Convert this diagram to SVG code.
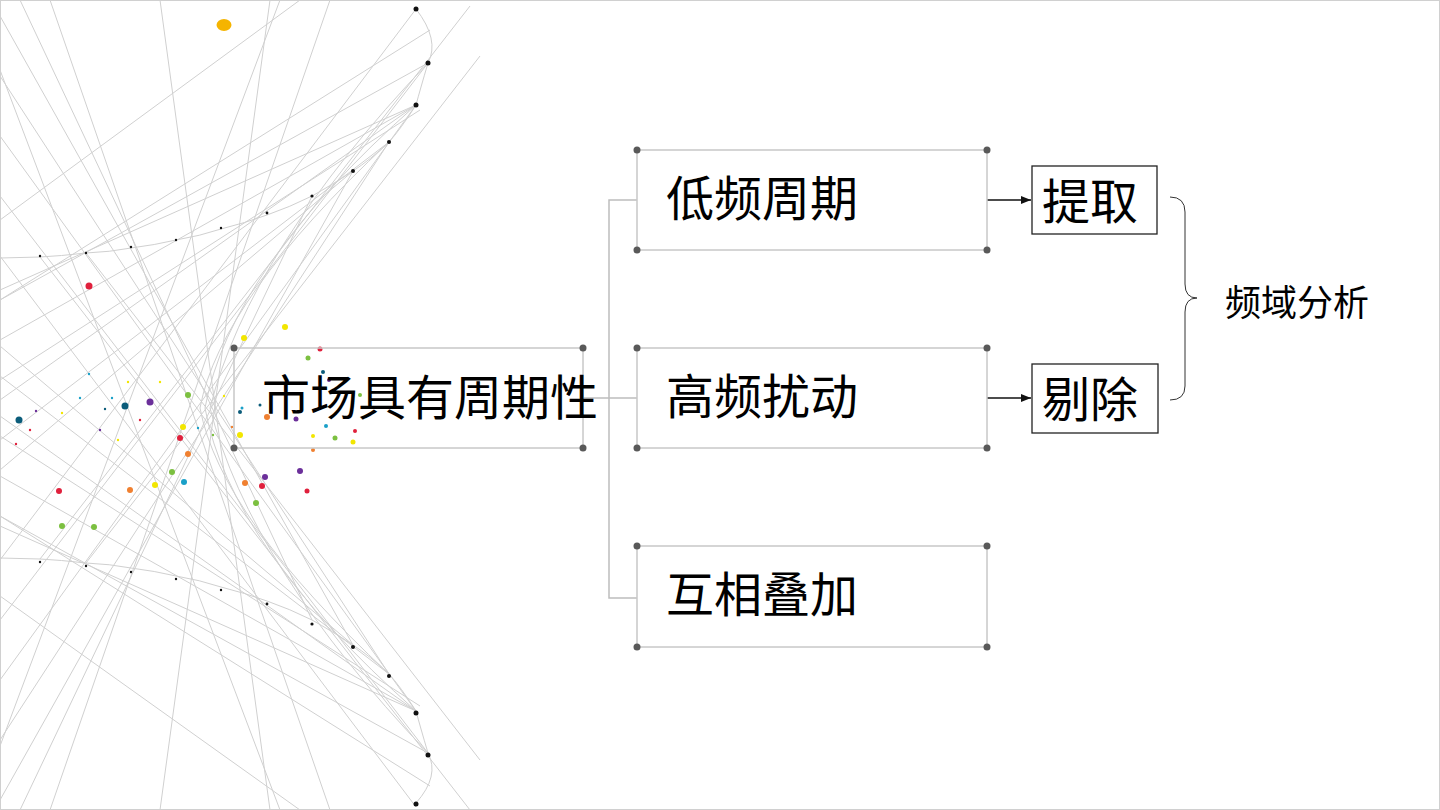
<svg xmlns="http://www.w3.org/2000/svg" width="1440" height="810" viewBox="0 0 1440 810">
<defs>
<style>
.t{font-family:"Noto Sans CJK SC","Noto Sans",sans-serif;fill:#000}
.box{fill:none;stroke:#c8c8c8;stroke-width:1.5}
.cd{fill:#595959}
.sb{fill:#fff;stroke:#222;stroke-width:1.3}
.dl{stroke:#d0d0d0;stroke-width:1;fill:none}
.bd{fill:#111}
.con{stroke:#bdbdbd;stroke-width:1.5;fill:none}
.ar{stroke:#111;stroke-width:1.5;fill:none}
</style>
<marker id="ah" viewBox="0 0 10 10" refX="10" refY="5" markerWidth="7" markerHeight="7" orient="auto"><path d="M0,1 L10,5 L0,9z" fill="#111"/></marker>
</defs>
<rect x="0.5" y="0.5" width="1439" height="809" fill="#fff" stroke="#d0d0d0"/>
<g id="decor">
<g class="dl">
<path d="M416,9 Q440,40 428,63 Q420,90 416,105 Q400,130 389,142 Q370,160 353,171 Q330,186 312,196 Q290,207 267,215 Q245,223 221,229 Q200,236 176,240 Q155,245 131,248 Q110,252 86,253 Q60,256 40,257 L0,258"/>
<path d="M416,803 Q440,776 428,753 Q420,726 416,711 Q400,686 389,674 Q370,656 353,645 Q330,630 312,620 Q290,609 267,601 Q245,593 221,587 Q200,580 176,576 Q155,571 131,568 Q110,564 86,563 Q60,560 40,559 L0,558"/>
<path d="M416,105 Q230,270 205,408 Q230,546 416,711"/>
<path d="M428,63 Q250,250 210,408 Q250,566 428,753"/>
<path d="M389,142 Q220,300 200,408 Q220,516 389,674"/>
<line x1="416" y1="9" x2="0" y2="560"/><line x1="428" y1="63" x2="0" y2="620"/><line x1="416" y1="105" x2="0" y2="680"/>
<line x1="389" y1="142" x2="0" y2="740"/><line x1="353" y1="171" x2="0" y2="800"/><line x1="312" y1="196" x2="20" y2="810"/>
<line x1="416" y1="807" x2="0" y2="256"/><line x1="428" y1="753" x2="0" y2="196"/><line x1="416" y1="711" x2="0" y2="136"/>
<line x1="389" y1="674" x2="0" y2="76"/><line x1="353" y1="645" x2="0" y2="16"/><line x1="312" y1="620" x2="20" y2="0"/>
<line x1="416" y1="105" x2="0" y2="340"/><line x1="416" y1="105" x2="0" y2="400"/><line x1="389" y1="142" x2="0" y2="440"/><line x1="353" y1="171" x2="0" y2="470"/>
<line x1="416" y1="711" x2="0" y2="476"/><line x1="416" y1="711" x2="0" y2="416"/><line x1="389" y1="674" x2="0" y2="376"/><line x1="353" y1="645" x2="0" y2="346"/>
<line x1="428" y1="63" x2="0" y2="300"/><line x1="428" y1="753" x2="0" y2="516"/>
<line x1="416" y1="105" x2="0" y2="290"/><line x1="416" y1="711" x2="0" y2="526"/>
<line x1="40" y1="257" x2="470" y2="810"/><line x1="86" y1="253" x2="480" y2="760"/>
<line x1="40" y1="559" x2="470" y2="6"/><line x1="86" y1="563" x2="480" y2="56"/>
<line x1="0" y1="70" x2="280" y2="810"/><line x1="0" y1="746" x2="280" y2="0"/>
<line x1="50" y1="0" x2="330" y2="810"/><line x1="50" y1="810" x2="330" y2="0"/>
<line x1="160" y1="0" x2="270" y2="810"/><line x1="160" y1="810" x2="270" y2="0"/>
<line x1="0" y1="220" x2="300" y2="0"/><line x1="0" y1="596" x2="300" y2="810"/>
<line x1="0" y1="300" x2="430" y2="30"/><line x1="0" y1="516" x2="430" y2="786"/>
<line x1="0" y1="380" x2="420" y2="110"/><line x1="0" y1="436" x2="420" y2="706"/>
</g>
<g class="bd">
<circle cx="416" cy="9" r="2.5"/><circle cx="428" cy="63" r="2.5"/><circle cx="416" cy="105" r="2.5"/><circle cx="389" cy="142" r="2"/><circle cx="353" cy="171" r="2"/><circle cx="312" cy="196" r="1.6"/><circle cx="267" cy="213" r="1.4"/><circle cx="221" cy="228" r="1.2"/><circle cx="176" cy="240" r="1.2"/><circle cx="131" cy="247" r="1.2"/><circle cx="86" cy="253" r="1.2"/><circle cx="40" cy="256" r="1.2"/>
<circle cx="416" cy="804" r="2.5"/><circle cx="428" cy="755" r="2.5"/><circle cx="416" cy="713" r="2.5"/><circle cx="389" cy="676" r="2"/><circle cx="353" cy="647" r="2"/><circle cx="312" cy="624" r="1.6"/><circle cx="267" cy="604" r="1.4"/><circle cx="221" cy="590" r="1.2"/><circle cx="176" cy="579" r="1.2"/><circle cx="131" cy="572" r="1.2"/><circle cx="86" cy="566" r="1.2"/><circle cx="40" cy="562" r="1.2"/>
</g>
<ellipse cx="224" cy="25" rx="7.5" ry="6" fill="#f5b400"/>
<g>
<circle cx="285" cy="327" r="3" fill="#f2e600"/><circle cx="320" cy="349" r="2.5" fill="#e0203c"/><circle cx="308" cy="358" r="2.5" fill="#7cc040"/><circle cx="89" cy="286" r="3.5" fill="#e0203c"/><circle cx="19" cy="420" r="3.5" fill="#0b5c7a"/><circle cx="125" cy="406" r="3.5" fill="#0b5c7a"/><circle cx="150" cy="402" r="3.5" fill="#6b2f9a"/><circle cx="188" cy="395" r="3" fill="#7cc040"/><circle cx="183" cy="427" r="3" fill="#f2e600"/><circle cx="180" cy="438" r="3" fill="#e0203c"/><circle cx="188" cy="454" r="3" fill="#f08030"/><circle cx="172" cy="472" r="3" fill="#7cc040"/><circle cx="155" cy="485" r="3" fill="#f2e600"/><circle cx="184" cy="482" r="3" fill="#1aa0c8"/><circle cx="130" cy="490" r="3" fill="#f08030"/><circle cx="59" cy="491" r="3" fill="#e0203c"/><circle cx="62" cy="526" r="3" fill="#7cc040"/><circle cx="94" cy="527" r="3" fill="#7cc040"/><circle cx="245" cy="483" r="3" fill="#f08030"/><circle cx="262" cy="486" r="3" fill="#e0203c"/><circle cx="265" cy="477" r="3" fill="#6b2f9a"/><circle cx="256" cy="503" r="3" fill="#7cc040"/><circle cx="300" cy="471" r="3" fill="#6b2f9a"/><circle cx="307" cy="491" r="2.5" fill="#e0203c"/><circle cx="267" cy="417" r="3" fill="#f08030"/><circle cx="296" cy="419" r="2.5" fill="#6b2f9a"/><circle cx="240" cy="435" r="3" fill="#f2e600"/><circle cx="335" cy="438" r="2.5" fill="#7cc040"/><circle cx="353" cy="442" r="2.5" fill="#f2e600"/><circle cx="355" cy="431" r="2" fill="#e0203c"/><circle cx="326" cy="426" r="2" fill="#1aa0c8"/><circle cx="360" cy="395" r="2" fill="#7cc040"/><circle cx="313" cy="436" r="2" fill="#f2e600"/><circle cx="313" cy="450" r="2" fill="#f08030"/><circle cx="244" cy="338" r="3" fill="#f2e600"/><circle cx="240" cy="412" r="2" fill="#0b5c7a"/><circle cx="242" cy="408" r="1.5" fill="#1aa0c8"/><circle cx="260" cy="405" r="1.5" fill="#0b5c7a"/><circle cx="323" cy="372" r="2" fill="#0b5c7a"/><circle cx="329" cy="380" r="2" fill="#6b2f9a"/>
<circle cx="36" cy="411" r="1.2" fill="#6b2f9a"/><circle cx="80" cy="398" r="1.2" fill="#1aa0c8"/><circle cx="62" cy="413" r="1.2" fill="#f2e600"/><circle cx="105" cy="409" r="1.2" fill="#0b5c7a"/><circle cx="112" cy="398" r="1.2" fill="#1aa0c8"/><circle cx="128" cy="382" r="1.2" fill="#f2e600"/><circle cx="100" cy="430" r="1.2" fill="#6b2f9a"/><circle cx="140" cy="420" r="1.2" fill="#e0203c"/><circle cx="118" cy="440" r="1.2" fill="#f2e600"/><circle cx="30" cy="430" r="1.2" fill="#e0203c"/><circle cx="16" cy="444" r="1.2" fill="#e0203c"/><circle cx="89" cy="374" r="1.2" fill="#1aa0c8"/><circle cx="160" cy="382" r="1.2" fill="#f2e600"/><circle cx="198" cy="428" r="1.2" fill="#1aa0c8"/><circle cx="224" cy="396" r="1.2" fill="#f2e600"/><circle cx="232" cy="427" r="1.2" fill="#f08030"/><circle cx="213" cy="435" r="1.2" fill="#7cc040"/>
</g>
</g>
<g id="connectors">
<polyline class="con" points="583,398 609,398"/>
<polyline class="con" points="637,200 609,200 609,598 637,598"/>
<line class="con" x1="609" y1="398" x2="637" y2="398"/>
<line class="ar" x1="987" y1="200" x2="1031" y2="200" marker-end="url(#ah)"/>
<line class="ar" x1="987" y1="398" x2="1031" y2="398" marker-end="url(#ah)"/>
<path d="M1170,197 Q1185,197 1185,212 L1185,284 Q1185,298 1197,298 Q1185,298 1185,312 L1185,386 Q1185,400 1170,400" fill="none" stroke="#333" stroke-width="1"/>
</g>
<g id="n-main"><rect class="box" x="234" y="348" width="349" height="100"/><circle class="cd" cx="234" cy="348" r="3.5"/><circle class="cd" cx="583" cy="348" r="3.5"/><circle class="cd" cx="234" cy="448" r="3.5"/><circle class="cd" cx="583" cy="448" r="3.5"/><text class="t" x="262" y="415" font-size="48">市场具有周期性</text></g>
<g id="n-low"><rect class="box" x="637" y="150" width="350" height="100"/><circle class="cd" cx="637" cy="150" r="3.5"/><circle class="cd" cx="987" cy="150" r="3.5"/><circle class="cd" cx="637" cy="250" r="3.5"/><circle class="cd" cx="987" cy="250" r="3.5"/><text class="t" x="666" y="216" font-size="48">低频周期</text></g>
<g id="n-high"><rect class="box" x="637" y="348" width="350" height="100"/><circle class="cd" cx="637" cy="348" r="3.5"/><circle class="cd" cx="987" cy="348" r="3.5"/><circle class="cd" cx="637" cy="448" r="3.5"/><circle class="cd" cx="987" cy="448" r="3.5"/><text class="t" x="666" y="414" font-size="48">高频扰动</text></g>
<g id="n-sum"><rect class="box" x="637" y="546" width="350" height="101"/><circle class="cd" cx="637" cy="546" r="3.5"/><circle class="cd" cx="987" cy="546" r="3.5"/><circle class="cd" cx="637" cy="647" r="3.5"/><circle class="cd" cx="987" cy="647" r="3.5"/><text class="t" x="666" y="612" font-size="48">互相叠加</text></g>
<g id="n-extract"><rect class="sb" x="1032" y="166" width="125" height="68"/><text class="t" x="1042" y="219" font-size="48">提取</text></g>
<g id="n-remove"><rect class="sb" x="1032" y="364" width="126" height="69"/><text class="t" x="1042" y="417" font-size="48">剔除</text></g>
<g id="n-freq"><text class="t" x="1225" y="316" font-size="36">频域分析</text></g>
</svg>
